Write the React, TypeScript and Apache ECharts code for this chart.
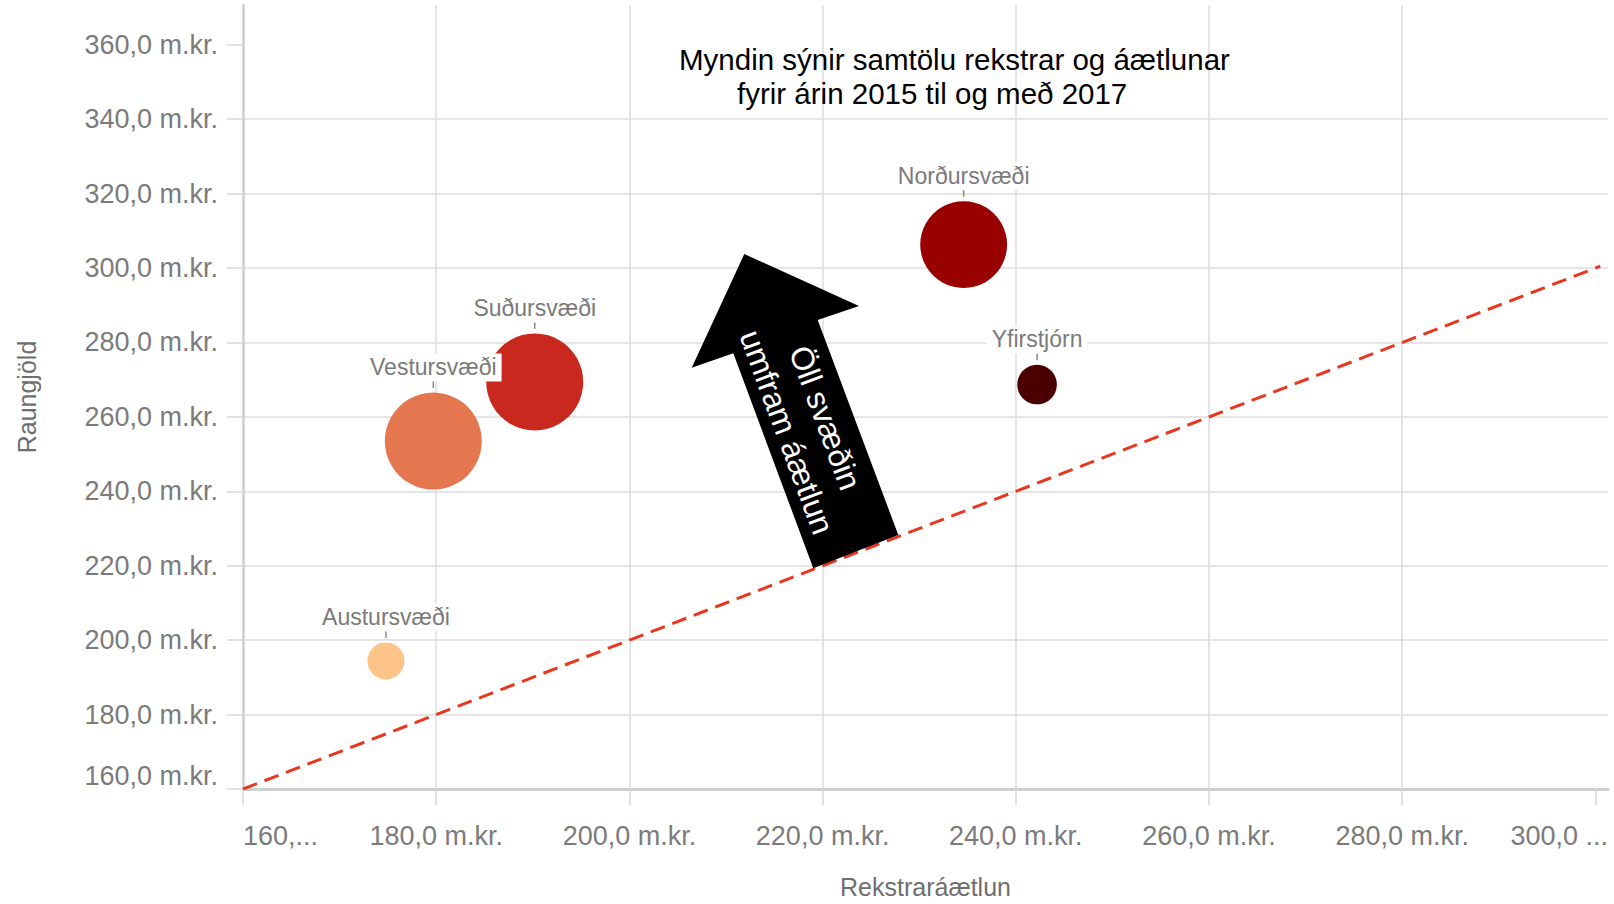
import React, { useEffect, useRef } from 'react';
import * as echarts from 'echarts';

// Regions (Qlik bubble chart)
const regions = ['Austursvæði', 'Vestursvæði', 'Suðursvæði', 'Norðursvæði', 'Yfirstjórn'];
// Rekstraráætlun (budget, m.kr.)
const budget = [174.8, 179.7, 190.2, 234.6, 242.2];
// Raungjöld (actual, m.kr.)
const actual = [194.4, 253.5, 269.4, 306.3, 268.7];
// Bubble size measure (relative)
const weight = [14, 96, 96, 77, 16];
const colors = ['#fdc48a', '#e4774f', '#c9281e', '#990000', '#4a0000'];
// Tick values
const xTicks = [160, 180, 200, 220, 240, 260, 280, 300];
const yTicks = [160, 180, 200, 220, 240, 260, 280, 300, 320, 340, 360];
// Budget = actual reference line (y = x)
const parityLine = [160, 300.5];

const titleLine1 = 'Myndin sýnir samtölu rekstrar og áætlunar';
const titleLine2 = 'fyrir árin 2015 til og með 2017';
const arrowText = 'Öll svæðin\numfram áætlun';

const FONT = '"Liberation Sans", Arial, sans-serif';
const fmt = (v: number) => v.toFixed(1).replace('.', ',') + ' m.kr.';
const isTick = (v: number) => Math.abs(v / 20 - Math.round(v / 20)) < 1e-6;
const sizeOf = (w: number) => 97 * Math.sqrt(w / 96);

export default function App() {
  const ref = useRef<HTMLDivElement>(null);
  useEffect(() => {
    if (!ref.current) return;
    document.body.style.margin = '0';
    const chart = echarts.init(ref.current, undefined, { renderer: 'svg' });

    const bubbleData = regions.map((name, i) => ({
      name,
      value: [budget[i], actual[i], weight[i]],
      itemStyle: { color: colors[i], opacity: 1 },
    }));
    const tickData = regions.map((name, i) => ({
      name,
      value: [budget[i], actual[i]],
      symbolOffset: [0, -(sizeOf(weight[i]) / 2 + 9)],
    }));

    chart.setOption({
      animation: false,
      backgroundColor: '#ffffff',
      grid: { left: 243, right: 6, top: 5, bottom: 114, containLabel: false },
      xAxis: {
        type: 'value',
        min: 160,
        max: 301.3,
        interval: 20,
        name: 'Rekstraráætlun',
        nameLocation: 'middle',
        nameGap: 85,
        nameTextStyle: { fontSize: 25, color: '#6e6e6e', fontFamily: FONT },
        axisLine: { show: true, lineStyle: { color: '#cfcfcf', width: 3 } },
        axisTick: { show: true, length: 16, customValues: xTicks, lineStyle: { color: '#d9d9d9', width: 1.5 } },
        splitLine: { show: true, showMaxLine: false, lineStyle: { color: '#dcdcdc', width: 1.5 } },
        axisLabel: {
          margin: 33,
          fontSize: 27,
          color: '#7b7b7b',
          fontFamily: FONT,
          alignMinLabel: 'left',
          alignMaxLabel: 'right',
          showMaxLabel: true,
          formatter: (v: number) => {
            if (v === xTicks[0]) return '160,...';
            if (v > 300.5) return '300,0 ...';
            if (v === 300) return '';
            return isTick(v) ? fmt(v) : '';
          },
        },
      },
      yAxis: {
        type: 'value',
        min: 160,
        max: 370.7,
        interval: 20,
        name: 'Raungjöld',
        nameLocation: 'middle',
        nameGap: 204,
        nameTextStyle: { fontSize: 25, color: '#6e6e6e', fontFamily: FONT },
        axisLine: { show: true, lineStyle: { color: '#cfcfcf', width: 2.5 } },
        axisTick: { show: true, length: 16, customValues: yTicks, lineStyle: { color: '#d9d9d9', width: 1.5 } },
        splitLine: { show: true, showMaxLine: false, showMinLine: false, lineStyle: { color: '#dcdcdc', width: 1.5 } },
        axisLabel: {
          margin: 25,
          fontSize: 27,
          color: '#7b7b7b',
          fontFamily: FONT,
          verticalAlignMinLabel: 'bottom',
          formatter: (v: number) => (isTick(v) ? fmt(v) : ''),
        },
      },
      series: [
        {
          type: 'line',
          data: [
            [parityLine[0], parityLine[0]],
            [parityLine[1], parityLine[1]],
          ],
          showSymbol: false,
          symbol: 'none',
          silent: true,
          z: 1,
          lineStyle: { color: '#e8371f', width: 3, type: [15, 8] },
        },
        {
          type: 'scatter',
          data: tickData,
          symbol: 'rect',
          symbolSize: [1.5, 9],
          silent: true,
          z: 2,
          itemStyle: { color: '#8a8a8a', opacity: 1 },
        },
        {
          type: 'scatter',
          data: bubbleData,
          symbolSize: (val: number[]) => sizeOf(val[2]),
          z: 3,
          label: {
            show: true,
            position: 'top',
            distance: 11,
            formatter: '{b}',
            fontSize: 23,
            color: '#7a7a7a',
            fontFamily: FONT,
            backgroundColor: '#ffffff',
            padding: [2, 5, 3, 5],
          },
        },
      ],
      graphic: [
        {
          type: 'polygon',
          z: 10,
          shape: {
            points: [
              [744.3, 254],
              [859, 306],
              [817.7, 320],
              [898.3, 535],
              [813.3, 568.3],
              [733.3, 353.3],
              [691.7, 367.7],
            ],
          },
          style: { fill: '#000000' },
        },
        {
          type: 'text',
          z: 11,
          x: 806,
          y: 425,
          rotation: -1.214,
          style: {
            text: arrowText,
            fill: '#ffffff',
            font: '32px "Liberation Sans", Arial, sans-serif',
            align: 'center',
            verticalAlign: 'middle',
            lineHeight: 41,
          },
        },
        {
          type: 'text',
          z: 11,
          x: 679,
          y: 59,
          style: {
            text: titleLine1,
            fill: '#000000',
            font: '29.5px "Liberation Sans", Arial, sans-serif',
            align: 'left',
            verticalAlign: 'middle',
          },
        },
        {
          type: 'text',
          z: 11,
          x: 737,
          y: 93,
          style: {
            text: titleLine2,
            fill: '#000000',
            font: '29.5px "Liberation Sans", Arial, sans-serif',
            align: 'left',
            verticalAlign: 'middle',
          },
        },
      ],
    });
    return () => chart.dispose();
  }, []);
  return <div ref={ref} style={{ position: 'absolute', left: 0, top: 0, width: 1614, height: 904 }} />;
}
